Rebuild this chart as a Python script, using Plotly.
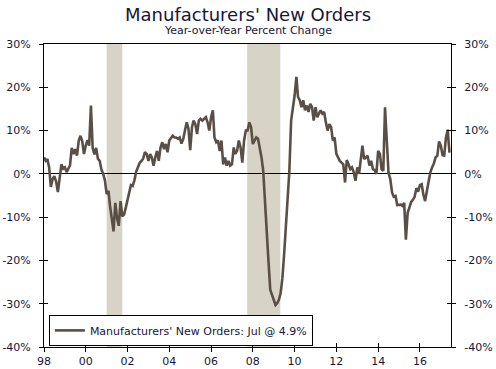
import pandas as pd
import plotly.graph_objects as go

# Year-over-year % change, monthly, starting Jan 1998
y1998 = [3.8, 3.0, 3.4, 1.5, -3.0, -1.2, -0.5, -1.8, -4.2, -1.0, 2.2, 1.2]
y1999 = [1.5, 0.4, 1.1, 2.0, 6.0, 4.6, 5.7, 4.2, 7.7, 8.8, 7.5, 4.6]
y2000 = [6.5, 7.8, 6.5, 15.8, 6.0, 4.5, 6.0, 3.5, 3.0, 1.0, 0.0, -1.5]
y2001 = [-4.7, -3.9, -7.4, -10.2, -13.3, -6.7, -10.2, -12.0, -6.3, -9.8, -9.4, -7.8]
y2002 = [-5.9, -3.6, -2.6, -2.8, -1.5, 0.5, 1.5, 2.5, 3.0, 3.5, 5.0, 4.6]
y2003 = [3.0, 4.6, 3.8, 1.9, 3.8, 5.3, 3.0, 6.1, 7.3, 5.7, 6.9, 5.0]
y2004 = [7.7, 8.4, 8.8, 8.4, 8.4, 8.1, 8.4, 7.0, 8.0, 10.0, 11.9, 10.5]
y2005 = [5.5, 10.8, 12.3, 11.5, 9.2, 12.3, 12.7, 12.3, 12.7, 13.1, 11.9, 10.0]
y2006 = [13.1, 14.7, 8.4, 7.3, 7.7, 5.3, 7.7, 2.2, 3.8, 1.9, 3.0, 1.9]
y2007 = [2.2, 6.1, 4.6, 5.3, 7.7, 6.1, 2.6, 7.7, 10.0, 10.0, 11.9, 10.8]
y2008 = [6.9, 7.7, 8.4, 8.1, 6.1, 3.8, 0.7, -5.5, -12.5, -20.2, -26.8, -28.0]
y2009 = [-29.1, -30.3, -29.9, -29.1, -27.6, -24.1, -18.7, -12.5, -5.5, 0.7, 12.3, 14.7]
y2010 = [18.1, 22.4, 17.8, 17.0, 15.4, 17.0, 14.7, 15.8, 14.3, 16.2, 15.4, 12.3]
y2011 = [15.4, 13.1, 13.9, 14.7, 13.9, 14.3, 11.9, 10.0, 11.5, 10.8, 7.7, 8.4]
y2012 = [4.6, 3.8, 3.0, 2.6, 2.2, -2.0, 3.2, 2.2, 1.1, 1.5, 0.3, -1.6]
y2013 = [1.5, 0.0, 3.4, 6.5, 3.4, 3.8, 4.2, 1.9, 3.0, 1.1, 0.9, 0.0]
y2014 = [5.3, 4.6, 1.1, 0.7, 15.4, 7.7, 0.3, -1.2, -4.3, -5.3, -5.1, -7.2]
y2015 = [-7.2, -7.1, -7.4, -6.7, -15.2, -9.0, -7.8, -6.5, -6.0, -5.3, -3.3, -4.1]
y2016 = [-2.6, -2.4, -4.7, -6.3, -4.0, -1.6, 0.3, 1.5, 2.4, 3.8, 4.2, 7.5]
y2017 = [6.5, 4.3, 4.2, 8.4, 10.2, 4.9]

values = (y1998 + y1999 + y2000 + y2001 + y2002 + y2003 + y2004 + y2005 + y2006 +
          y2007 + y2008 + y2009 + y2010 + y2011 + y2012 + y2013 + y2014 + y2015 +
          y2016 + y2017)
dates = pd.date_range("1998-01-01", periods=len(values), freq="MS")

recessions = [("2001-01-01", "2001-10-01"), ("2007-09-24", "2009-04-26")]

x_tick_vals = [f"{y}-01-01" for y in range(1998, 2017, 2)]
x_tick_text = ["98", "00", "02", "04", "06", "08", "10", "12", "14", "16"]
y_tick_vals = [-40, -30, -20, -10, 0, 10, 20, 30]
y_tick_text = ["-40%", "-30%", "-20%", "-10%", "0%", "10%", "20%", "30%"]

series_name = "Manufacturers' New Orders: Jul @ 4.9%"
x_range = ["1998-01-01", "2017-06-28"]
y_range = [-40, 30]

FONT = "DejaVu Sans"
TXT = "#161636"
LINE = "#5a4f46"

fig = go.Figure()
fig.add_trace(go.Scatter(x=dates, y=values, mode="lines", name=series_name,
                         line=dict(color=LINE, width=2.6), xaxis="x", yaxis="y"))
# invisible helper traces so overlay axes (right side / inside ticks) are drawn
for xa, ya in [("x", "y2"), ("x2", "y3"), ("x2", "y4")]:
    fig.add_trace(go.Scatter(x=dates, y=values, mode="lines", showlegend=False,
                             hoverinfo="skip", line=dict(width=0, color="rgba(0,0,0,0)"),
                             xaxis=xa, yaxis=ya))

for x0, x1 in recessions:
    fig.add_shape(type="rect", xref="x", yref="paper", x0=x0, x1=x1, y0=0, y1=1,
                  fillcolor="#d7d3c7", line=dict(width=0), layer="below")

common_y = dict(range=y_range, tickvals=y_tick_vals, ticktext=y_tick_text,
                showgrid=False, zeroline=False, showline=True, linecolor="black",
                linewidth=1, tickcolor="black", ticklen=4, tickwidth=1, automargin=False,
                tickfont=dict(family=FONT, size=11, color=TXT))

fig.update_layout(
    width=496, height=369,
    margin=dict(l=44, r=45, t=44, b=22),
    paper_bgcolor="white", plot_bgcolor="white",
    showlegend=True, hovermode=False,
    legend=dict(x=0.012, y=0.106, xanchor="left", yanchor="top",
                bgcolor="white", bordercolor="black", borderwidth=1,
                font=dict(family=FONT, size=11, color=TXT),
                tracegroupgap=0, itemwidth=30),
    xaxis=dict(type="date", range=x_range, tickvals=x_tick_vals, ticktext=x_tick_text,
               showgrid=False, zeroline=False, showline=True, linecolor="black",
               linewidth=1, mirror=True, ticks="outside", ticklen=4, tickcolor="black",
               automargin=False,
               tickfont=dict(family=FONT, size=11, color=TXT), ticklabelstandoff=0),
    xaxis2=dict(type="date", range=x_range, tickvals=x_tick_vals, overlaying="x",
                showticklabels=False, showgrid=False, zeroline=False, showline=False,
                automargin=False,
                ticks="inside", ticklen=4, tickcolor="black", anchor="y"),
    yaxis=dict(**common_y, side="left", ticks="outside", ticklabelstandoff=6),
    yaxis2=dict(**common_y, side="right", overlaying="y", anchor="x",
                ticks="outside", ticklabelstandoff=6),
    yaxis3=dict(range=y_range, tickvals=y_tick_vals, overlaying="y", side="left",
                showticklabels=False, showgrid=False, zeroline=True, automargin=False,
                zerolinecolor="black", zerolinewidth=1, showline=False,
                ticks="inside", ticklen=4, tickcolor="black", anchor="x2"),
    yaxis4=dict(range=y_range, tickvals=y_tick_vals, overlaying="y", side="right",
                showticklabels=False, showgrid=False, zeroline=False, showline=False,
                automargin=False,
                ticks="inside", ticklen=4, tickcolor="black", anchor="x2"),
    annotations=[
        dict(text="Manufacturers' New Orders", xref="paper", yref="paper",
             x=0.5, y=1.099, xanchor="center", yanchor="middle", showarrow=False,
             font=dict(family=FONT, size=18, color=TXT)),
        dict(text="Year-over-Year Percent Change", xref="paper", yref="paper",
             x=0.5, y=1.045, xanchor="center", yanchor="middle", showarrow=False,
             font=dict(family=FONT, size=11, color=TXT)),
    ],
)

fig.write_html("out.html", config={"displayModeBar": False, "staticPlot": True},
               post_script="document.body.style.margin='0';document.body.style.padding='0';")
